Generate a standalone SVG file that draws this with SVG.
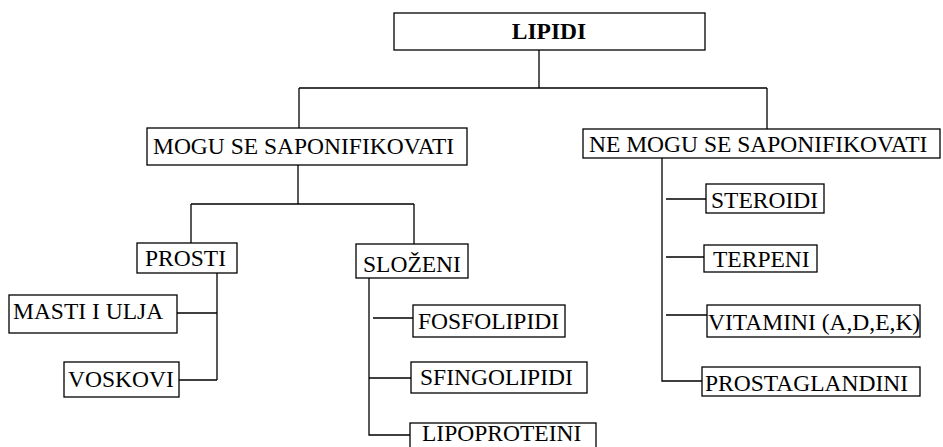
<svg xmlns="http://www.w3.org/2000/svg" width="943" height="447" viewBox="0 0 943 447">
<style>
.box{fill:#fff;stroke:#000;stroke-width:1.3}
.t{font-family:"Liberation Serif","Times New Roman",serif;font-size:23.5px;fill:#000}
.b{font-weight:bold;text-anchor:middle}
.c{fill:none;stroke:#000;stroke-width:1.3}
</style>
<rect width="943" height="447" fill="#fff"/>
<g id="connectors" class="c">
<path d="M539,50V88M299,88H767M299,88V128M767,88V129"/>
<path d="M298,165V204M191,204H414M191,204V243M414,204V244"/>
<path d="M217,273V380M177,313H217M179,380H217"/>
<path d="M369,278V435H410M373,318H413M369,378H411"/>
<path d="M662,158V381H702M666,199H706M666,257H704M666,315H707"/>
</g>
<g id="lipidi"><rect class="box" x="394" y="13" width="311" height="37"/><text class="t b" x="549" y="39">LIPIDI</text></g>
<g id="mogu"><rect class="box" x="147" y="128" width="320" height="37"/><text class="t" x="153" y="154">MOGU SE SAPONIFIKOVATI</text></g>
<g id="nemogu"><rect class="box" x="583" y="129" width="357" height="29"/><text class="t" x="589" y="152">NE MOGU SE SAPONIFIKOVATI</text></g>
<g id="prosti"><rect class="box" x="137" y="243" width="100" height="30"/><text class="t" x="145" y="266">PROSTI</text></g>
<g id="slozeni"><rect class="box" x="356" y="244" width="112" height="34"/><text class="t" x="363" y="272">SLOŽENI</text></g>
<g id="masti"><rect class="box" x="9" y="295" width="168" height="38"/><text class="t" x="13" y="319">MASTI I ULJA</text></g>
<g id="voskovi"><rect class="box" x="64" y="362" width="115" height="35"/><text class="t" x="68" y="387">VOSKOVI</text></g>
<g id="fosfolipidi"><rect class="box" x="413" y="305" width="152" height="32"/><text class="t" x="418" y="329">FOSFOLIPIDI</text></g>
<g id="sfingolipidi"><rect class="box" x="411" y="362" width="176" height="31"/><text class="t" x="420" y="385">SFINGOLIPIDI</text></g>
<g id="lipoproteini"><rect class="box" x="410" y="423" width="186" height="30"/><text class="t" x="422" y="441">LIPOPROTEINI</text></g>
<g id="steroidi"><rect class="box" x="706" y="184" width="118" height="29"/><text class="t" x="711" y="208">STEROIDI</text></g>
<g id="terpeni"><rect class="box" x="704" y="245" width="113" height="27"/><text class="t" x="713" y="267">TERPENI</text></g>
<g id="vitamini"><rect class="box" x="707" y="305" width="213" height="32"/><text class="t" x="708" y="330">VITAMINI (A,D,E,K)</text></g>
<g id="prostaglandini"><rect class="box" x="702" y="367" width="218" height="29"/><text class="t" x="705" y="391">PROSTAGLANDINI</text></g>
</svg>
